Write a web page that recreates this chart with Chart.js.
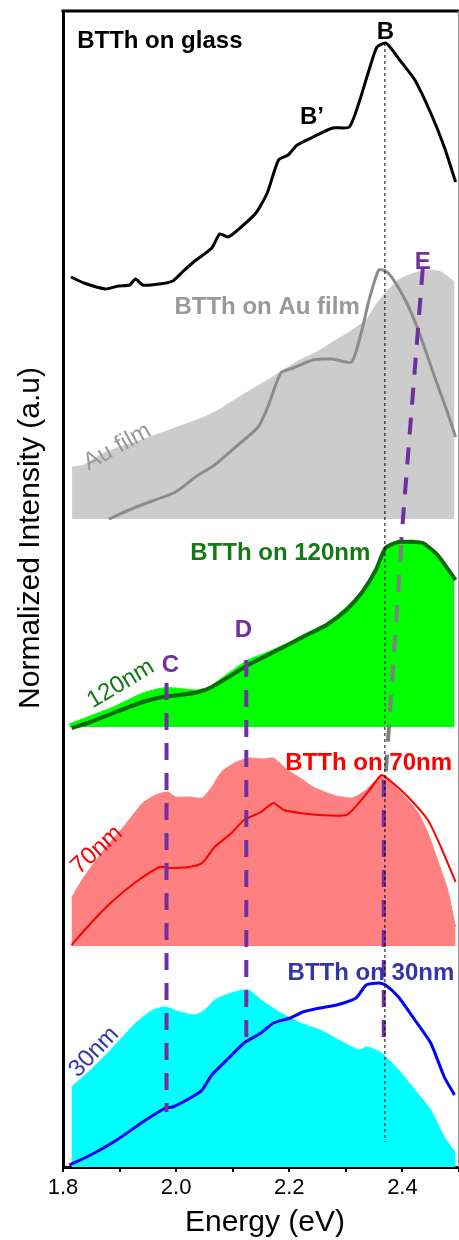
<!DOCTYPE html>
<html>
<head>
<meta charset="utf-8">
<script src="https://cdn.jsdelivr.net/npm/chart.js@4"></script>
<style>
  body { margin: 0; background: #fff; }
  canvas { display: block; }
</style>
</head>
<body>
<canvas id="spectra" width="459" height="1240"></canvas>
<script>
// energies (eV) and normalized intensities
const glassE = [1.814,1.837,1.875,1.898,1.918,1.928,1.941,1.970,1.994,2.011,2.031,2.063,2.077,2.092,2.115,2.141,2.161,2.181,2.198,2.214,2.242,2.277,2.306,2.323,2.341,2.355,2.370,2.378,2.398,2.422,2.450,2.474,2.494];
const glassI = [0.23,0.17,0.11,0.14,0.15,0.21,0.15,0.16,0.19,0.28,0.38,0.52,0.66,0.63,0.73,0.87,1.07,1.40,1.45,1.55,1.63,1.72,1.73,1.97,2.30,2.53,2.57,2.53,2.38,2.20,1.87,1.53,1.18];

const auFilmE = [1.816,1.837,1.872,1.929,1.988,2.046,2.075,2.103,2.132,2.162,2.190,2.219,2.249,2.277,2.306,2.336,2.353,2.370,2.393,2.422,2.450,2.468,2.492];
const auFilmI = [0.52,0.54,0.66,0.77,0.89,1.01,1.09,1.19,1.29,1.39,1.49,1.59,1.67,1.77,1.87,1.99,2.14,2.26,2.39,2.46,2.49,2.47,2.37];
const btthAuE = [1.881,1.929,1.999,2.034,2.068,2.103,2.145,2.162,2.185,2.207,2.242,2.277,2.310,2.327,2.341,2.358,2.370,2.381,2.405,2.428,2.457,2.480,2.494];
const btthAuI = [0.00,0.12,0.27,0.42,0.54,0.71,0.92,1.12,1.46,1.51,1.59,1.60,1.57,1.86,2.19,2.49,2.48,2.42,2.19,1.89,1.42,1.06,0.82];

const film120E = [1.811,1.843,1.889,1.941,1.976,1.999,2.034,2.058,2.093,2.127,2.162,2.197,2.231,2.266,2.301,2.329,2.353,2.370,2.393,2.415,2.440,2.468,2.492];
const film120I = [0.03,0.10,0.20,0.34,0.39,0.39,0.37,0.40,0.54,0.67,0.75,0.84,0.94,1.04,1.20,1.37,1.57,1.80,1.85,1.87,1.84,1.70,1.50];
const btth120E = [1.815,1.849,1.889,1.941,1.976,2.006,2.040,2.063,2.093,2.127,2.162,2.197,2.231,2.266,2.301,2.329,2.353,2.370,2.393,2.415,2.436,2.462,2.494];
const btth120I = [-0.01,0.05,0.14,0.25,0.30,0.32,0.35,0.40,0.50,0.62,0.72,0.82,0.92,1.02,1.17,1.35,1.57,1.79,1.85,1.85,1.84,1.72,1.47];

const film70E = [1.815,1.837,1.872,1.907,1.941,1.964,1.985,1.999,2.023,2.046,2.063,2.080,2.103,2.127,2.155,2.172,2.197,2.219,2.242,2.277,2.311,2.336,2.353,2.367,2.381,2.405,2.428,2.445,2.462,2.480,2.494];
const film70I = [0.48,0.69,0.96,1.19,1.43,1.51,1.54,1.49,1.49,1.48,1.59,1.74,1.83,1.88,1.87,1.88,1.76,1.68,1.59,1.51,1.48,1.56,1.66,1.71,1.63,1.49,1.33,1.13,0.86,0.56,0.19];
const btth70E = [1.815,1.843,1.884,1.929,1.971,1.988,2.023,2.046,2.068,2.098,2.120,2.150,2.172,2.190,2.219,2.254,2.301,2.323,2.346,2.363,2.381,2.410,2.445,2.468,2.494];
const btth70I = [0.01,0.19,0.43,0.64,0.79,0.78,0.79,0.83,0.99,1.13,1.26,1.34,1.43,1.36,1.33,1.31,1.31,1.43,1.59,1.71,1.64,1.49,1.26,0.99,0.64];

const film30E = [1.815,1.849,1.889,1.929,1.959,1.981,2.006,2.034,2.051,2.068,2.098,2.127,2.155,2.185,2.219,2.254,2.294,2.323,2.337,2.363,2.393,2.422,2.450,2.474,2.494];
const film30I = [0.80,0.97,1.20,1.44,1.57,1.60,1.55,1.52,1.57,1.67,1.74,1.77,1.65,1.54,1.44,1.37,1.25,1.17,1.20,1.14,0.97,0.77,0.57,0.30,0.14];
const btth30E = [1.811,1.849,1.895,1.941,1.981,1.994,2.028,2.046,2.063,2.093,2.120,2.150,2.172,2.202,2.224,2.254,2.284,2.318,2.336,2.358,2.370,2.393,2.422,2.450,2.474,2.492];
const btth30I = [0.02,0.12,0.27,0.45,0.59,0.60,0.70,0.77,0.92,1.09,1.24,1.34,1.44,1.49,1.55,1.59,1.62,1.69,1.82,1.84,1.82,1.70,1.47,1.24,0.90,0.72];

// vertical offsets of the stacked panels (glass, Au, 120nm, 70nm, 30nm)
const offsets = [8.67, 6.48, 4.40, 2.21, 0];

// peak guide lines: [energy, y] pairs
const lineB = [[2.369, 11.24], [2.369, 0.25]];
const lineC = [[1.983, 4.84], [1.983, 0.55]];
const lineD = [[2.124, 5.07], [2.124, 1.19]];
const lineE1 = [[2.436, 8.99], [2.398, 6.27]];
const lineE2 = [[2.398, 6.22], [2.370, 3.89]];
const lineE3 = [[2.367, 3.87], [2.367, 1.19]];

const xTicks = [1.8, 2.0, 2.2, 2.4];

const FONT = "'Liberation Sans', Arial, Helvetica, sans-serif";
const PURPLE = '#7030a0';

const labels = [
  { text: 'BTTh on glass', x: 1.825, y: 11.26, color: '#000000', bold: true, align: 'left' },
  { text: 'B', x: 2.370, y: 11.35, color: '#000000', bold: true },
  { text: 'B\u2019', x: 2.240, y: 10.50, color: '#000000', bold: true },
  { text: 'BTTh on Au film', x: 1.997, y: 8.60, color: '#999999', bold: true, align: 'left' },
  { text: 'Au film', x: 1.896, y: 7.20, color: '#999999', rot: -29 },
  { text: 'E', x: 2.436, y: 9.05, color: PURPLE, bold: true },
  { text: 'BTTh on 120nm', x: 2.025, y: 6.14, color: '#137a13', bold: true, align: 'left' },
  { text: '120nm', x: 1.902, y: 4.83, color: '#137a13', rot: -31 },
  { text: 'C', x: 1.990, y: 5.02, color: PURPLE, bold: true },
  { text: 'D', x: 2.119, y: 5.37, color: PURPLE, bold: true },
  { text: 'BTTh on 70nm', x: 2.193, y: 4.04, color: '#ff0000', bold: true, align: 'left' },
  { text: '70nm', x: 1.860, y: 3.17, color: '#ff0000', rot: -42 },
  { text: 'BTTh on 30nm', x: 2.197, y: 1.94, color: '#3535a5', bold: true, align: 'left' },
  { text: '30nm', x: 1.855, y: 1.15, color: '#3535a5', rot: -46 }
];

function toPoints(xs, ys, off) {
  return xs.map((x, i) => ({ x: x, y: ys[i] + off }));
}
function seg(pairs) {
  return pairs.map(p => ({ x: p[0], y: p[1] }));
}

function fillSet(xs, ys, off, color) {
  return {
    data: toPoints(xs, ys, off), borderColor: color, backgroundColor: color,
    borderWidth: 1, fill: { value: off }, pointRadius: 0, tension: 0.2, order: 10
  };
}
function lineSet(xs, ys, off, color, w) {
  return {
    data: toPoints(xs, ys, off), borderColor: color, borderWidth: w,
    fill: false, pointRadius: 0, tension: 0.2, order: 5
  };
}
function guideSet(pairs, color, w, dash) {
  return {
    data: seg(pairs), borderColor: color, borderWidth: w, borderDash: dash,
    fill: false, pointRadius: 0, tension: 0, order: 0, borderCapStyle: 'butt'
  };
}

const framePlugin = {
  id: 'frame',
  afterDraw(chart) {
    const ctx = chart.ctx, a = chart.chartArea;
    ctx.save();
    ctx.strokeStyle = '#000';
    ctx.lineWidth = 3;
    ctx.beginPath();
    ctx.moveTo(a.left - 1.5, a.top);
    ctx.lineTo(a.right, a.top);
    ctx.stroke();
    ctx.strokeStyle = '#999';
    ctx.lineWidth = 1;
    ctx.beginPath();
    ctx.moveTo(a.right - 0.5, a.top);
    ctx.lineTo(a.right - 0.5, a.bottom);
    ctx.stroke();

    // axis titles
    ctx.fillStyle = '#000';
    ctx.font = '30px ' + FONT;
    ctx.textAlign = 'center';
    ctx.textBaseline = 'middle';
    ctx.fillText('Energy (eV)', 265, a.bottom + 56);
    ctx.translate(31, chart.scales.y.getPixelForValue(6.29));
    ctx.rotate(-Math.PI / 2);
    ctx.fillText('Normalized Intensity (a.u)', 0, 0);
    ctx.restore();
  }
};

const labelPlugin = {
  id: 'labels',
  afterDatasetsDraw(chart) {
    const ctx = chart.ctx, xs = chart.scales.x, ys = chart.scales.y;
    labels.forEach(l => {
      ctx.save();
      ctx.translate(xs.getPixelForValue(l.x), ys.getPixelForValue(l.y));
      if (l.rot) ctx.rotate(l.rot * Math.PI / 180);
      ctx.font = (l.bold ? 'bold ' : '') + '24px ' + FONT;
      ctx.fillStyle = l.color;
      ctx.textAlign = l.align || 'center';
      ctx.textBaseline = 'middle';
      ctx.fillText(l.text, 0, 0);
      ctx.restore();
    });
  }
};

new Chart(document.getElementById('spectra'), {
  type: 'line',
  data: {
    datasets: [
      fillSet(auFilmE, auFilmI, offsets[1], '#cccccc'),
      fillSet(film120E, film120I, offsets[2], '#00ff00'),
      fillSet(film70E, film70I, offsets[3], '#ff8080'),
      fillSet(film30E, film30I, offsets[4], '#00ffff'),
      lineSet(glassE, glassI, offsets[0], '#000000', 3),
      lineSet(btthAuE, btthAuI, offsets[1], '#8c8c8c', 3),
      lineSet(btth120E, btth120I, offsets[2], '#0b6a0b', 4),
      lineSet(btth70E, btth70I, offsets[3], '#ff0000', 2),
      lineSet(btth30E, btth30I, offsets[4], '#0000ff', 3),
      guideSet(lineB, '#000000', 1, [3, 3]),
      guideSet(lineC, PURPLE, 4, [17, 13]),
      guideSet(lineD, PURPLE, 4, [17, 13]),
      guideSet(lineE1, PURPLE, 4, [17, 13]),
      guideSet(lineE2, '#808080', 4, [17, 13]),
      guideSet(lineE3, PURPLE, 4, [17, 13])
    ]
  },
  options: {
    responsive: false,
    animation: false,
    layout: { padding: { left: 63, top: 11, right: 0, bottom: 0 } },
    plugins: { legend: { display: false }, tooltip: { enabled: false } },
    scales: {
      x: {
        type: 'linear',
        min: 1.8,
        max: 2.5,
        afterFit: s => { s.height = 73; s.paddingLeft = 0; s.paddingRight = 0; },
        afterBuildTicks: s => {
          const t = [];
          for (let i = 18; i <= 25; i++) t.push({ value: i / 10 });
          s.ticks = t;
        },
        ticks: {
          autoSkip: false,
          maxRotation: 0,
          padding: 3,
          color: '#000',
          font: { size: 22, family: FONT },
          callback: v => xTicks.some(t => Math.abs(t - v) < 1e-6) ? v.toFixed(1) : ''
        },
        grid: { drawOnChartArea: false, drawTicks: true, tickLength: 5, color: '#000', lineWidth: 2 },
        border: { display: true, color: '#000', width: 3 }
      },
      y: {
        min: 0,
        max: 11.56,
        afterFit: s => { s.width = 0; },
        ticks: { display: false },
        grid: { display: false, drawTicks: false },
        border: { display: true, color: '#000', width: 3 }
      }
    }
  },
  plugins: [framePlugin, labelPlugin]
});
</script>
</body>
</html>
